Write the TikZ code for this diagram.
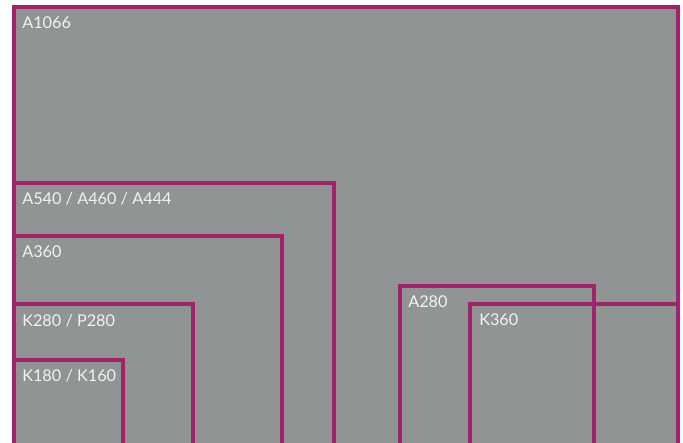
\documentclass[tikz,border=0pt]{standalone}
\usepackage{fontspec}
\setmainfont{Lato}
\definecolor{boxgray}{HTML}{909494}
\definecolor{boxline}{HTML}{A3236A}
\definecolor{labeltext}{HTML}{F2F2F2}
\begin{document}
\begin{tikzpicture}[x=0.75pt,y=-0.75pt,
  sizebox/.style={draw=boxline,line width=2.3pt},
  sizelabel/.style={anchor=base west,inner sep=0pt,text=labeltext,font=\fontsize{12.2pt}{14pt}\selectfont}]
\useasboundingbox (0,0) rectangle (683,443);
\clip (0,0) rectangle (683,443);
\fill[boxgray] (14,7) rectangle (678,460);
% boxes
\draw[sizebox] (14,460) -- (14,7) -- (678,7) -- (678,460);
\draw[sizebox] (14,460) -- (14,183) -- (334,183) -- (334,460);
\draw[sizebox] (14,460) -- (14,236) -- (282,236) -- (282,460);
\draw[sizebox] (14,460) -- (14,304) -- (193,304) -- (193,460);
\draw[sizebox] (14,460) -- (14,360) -- (123,360) -- (123,460);
\draw[sizebox] (400,460) -- (400,286) -- (594,286) -- (594,460);
\draw[sizebox] (470,460) -- (470,304) -- (678,304) -- (678,460);
% labels
\node[sizelabel] (a1066) at (22,28) {A1066};
\node[sizelabel] (a540) at (22,204) {A540 / A460 / A444};
\node[sizelabel] (a360) at (22,257) {A360};
\node[sizelabel] (k280) at (22,326) {K280 / P280};
\node[sizelabel] (k180) at (22,381) {K180 / K160};
\node[sizelabel] (a280) at (408,307) {A280};
\node[sizelabel] (k360) at (479,325) {K360};
\end{tikzpicture}
\end{document}
